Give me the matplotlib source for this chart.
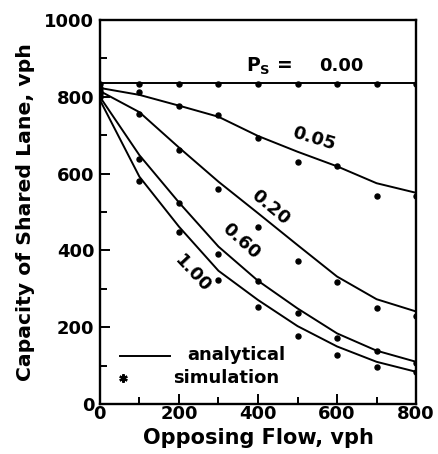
import matplotlib
matplotlib.use("Agg")
import matplotlib.pyplot as plt
import numpy as np

# datos
flujo = [0, 100, 200, 300, 400, 500, 600, 700, 800]   # opposing flow, vph
ps_labels = ["0.00", "0.05", "0.20", "0.60", "1.00"]

# curvas analiticas
ana_000 = [836, 836, 836, 836, 836, 836, 836, 836, 836]
ana_005 = [823, 805, 777, 748, 698, 657, 619, 575, 550]
ana_020 = [815, 760, 668, 579, 497, 414, 332, 273, 241]
ana_060 = [800, 648, 525, 410, 321, 249, 184, 139, 110]
ana_100 = [792, 592, 462, 347, 271, 203, 150, 110, 84]

# puntos de simulacion
sim_000 = [833, 833, 833, 833, 833, 833, 833, 833, 833]
sim_005 = [822, 812, 777, 752, 694, 630, 620, 541, 541]
sim_020 = [815, 756, 662, 561, 461, 372, 319, 249, 229]
sim_060 = [806, 637, 523, 390, 321, 236, 171, 138, 106]
sim_100 = [800, 581, 448, 322, 254, 178, 128, 97, 83]

analiticas = [ana_000, ana_005, ana_020, ana_060, ana_100]
simulaciones = [sim_000, sim_005, sim_020, sim_060, sim_100]

plt.rcParams['font.family'] = ['DejaVu Sans']
plt.rcParams['font.weight'] = 'bold'
plt.rcParams['axes.labelweight'] = 'bold'
plt.rcParams['mathtext.default'] = 'bf'

fig = plt.figure(figsize=(4.38, 4.54), dpi=100)
ax = fig.add_axes([0.228, 0.110, 0.722, 0.846])

for ana, sim in zip(analiticas, simulaciones):
    ax.plot(flujo, ana, color='black', lw=1.4)
    ax.plot(flujo, sim, 'o', color='black', ms=3.6)

# etiquetas de las curvas
ax.text(427, 880, r"P$_\mathbf{S}$ =", fontsize=13.5, ha='center', va='center')
ax.text(610, 880, ps_labels[0], fontsize=13, ha='center', va='center')
ax.text(540, 690, ps_labels[1], fontsize=13, ha='center', va='center', rotation=-17)
ax.text(430, 513, ps_labels[2], fontsize=13, ha='center', va='center', rotation=-40)
ax.text(356, 423, ps_labels[3], fontsize=13, ha='center', va='center', rotation=-42)
ax.text(235, 340, ps_labels[4], fontsize=13, ha='center', va='center', rotation=-47)

# leyenda dibujada a mano
ax.plot([0.064, 0.222], [0.125, 0.125], color='black', lw=1.4, transform=ax.transAxes)
ax.text(0.275, 0.127, "analytical", fontsize=13, va='center', transform=ax.transAxes)
ax.plot([0.073], [0.068], marker=(6, 2, 0), color='black', ms=6, mew=1.6,
        transform=ax.transAxes)
ax.text(0.231, 0.068, "simulation", fontsize=13, va='center', transform=ax.transAxes)

ax.set_xlim(0, 800)
ax.set_ylim(0, 1000)
ax.set_xticks([0, 200, 400, 600, 800])
ax.set_xticks([100, 300, 500, 700], minor=True)
ax.set_yticks([0, 200, 400, 600, 800, 1000])
ax.set_yticks([100, 300, 500, 700, 900], minor=True)
ax.tick_params(which='both', direction='in', width=1.4, labelsize=13)
ax.tick_params(which='major', length=7)
ax.tick_params(which='minor', length=5)
ax.tick_params(axis='x', pad=1)
ax.tick_params(axis='y', pad=4)
for sp in ax.spines.values():
    sp.set_linewidth(1.7)

ax.set_xlabel("Opposing Flow, vph", fontsize=15, labelpad=3)
ax.set_ylabel("Capacity of Shared Lane, vph", fontsize=14.7, labelpad=7)

fig.savefig("out.png", dpi=100)
